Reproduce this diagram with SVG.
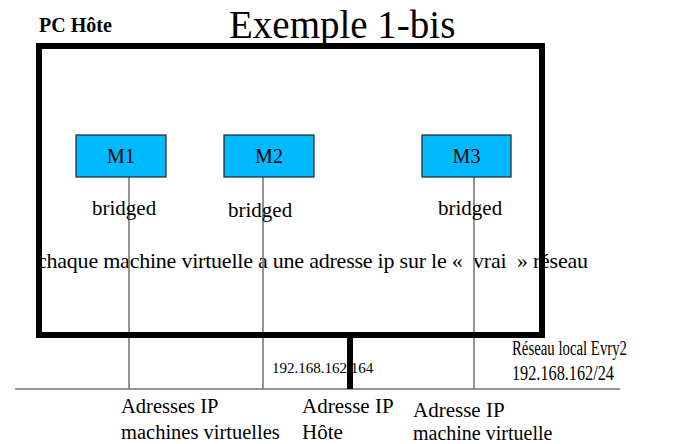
<svg xmlns="http://www.w3.org/2000/svg" width="683" height="444" viewBox="0 0 683 444">
<style>
text{font-family:"Liberation Serif","Times New Roman",serif;fill:#000}
.vm{fill:#00b9ff;stroke:#222;stroke-width:1.2}
.lbl{font-size:21px}
.link{stroke:#707070;stroke-width:1.5;fill:none}
.thick{stroke:#000;stroke-width:6;fill:none}
</style>
<rect width="683" height="444" fill="#fff"/>
<text x="229" y="38" font-size="39">Exemple 1-bis</text>
<text x="37" y="268" font-size="22" xml:space="preserve" textLength="551" lengthAdjust="spacing">chaque machine virtuelle a une adresse ip sur le «  vrai  » réseau</text>
<text x="272" y="373" font-size="15">192.168.162.164</text>
<g id="connectors">
<line class="link" x1="15" y1="389" x2="620" y2="389"/>
<line class="link" x1="129" y1="177" x2="129" y2="389"/>
<line class="link" x1="263" y1="177" x2="263" y2="389"/>
<line class="link" x1="474" y1="177" x2="474" y2="389"/>
<line class="thick" x1="350" y1="335" x2="350" y2="389"/>
</g>
<g id="pc-host">
<rect class="thick" x="39" y="46" width="503" height="289"/>
<text x="39" y="32" font-size="20" font-weight="bold">PC Hôte</text>
</g>
<g id="m1">
<rect class="vm" x="76" y="135" width="90" height="42"/>
<text x="121" y="163" font-size="20" text-anchor="middle">M1</text>
</g>
<g id="m2">
<rect class="vm" x="224" y="135" width="90" height="42"/>
<text x="269" y="163" font-size="20" text-anchor="middle">M2</text>
</g>
<g id="m3">
<rect class="vm" x="422" y="135" width="89" height="42"/>
<text x="466.5" y="163" font-size="20" text-anchor="middle">M3</text>
</g>
<g id="labels">
<text x="92" y="215" class="lbl">bridged</text>
<text x="228" y="217" class="lbl">bridged</text>
<text x="438" y="215" class="lbl">bridged</text>
<text x="512" y="355" font-size="20" textLength="115" lengthAdjust="spacingAndGlyphs">Réseau local Evry2</text>
<text x="512" y="380" font-size="20" textLength="102" lengthAdjust="spacingAndGlyphs">192.168.162/24</text>
<text x="121" y="413" font-size="20.5">Adresses IP</text>
<text x="121" y="439" font-size="20.5">machines virtuelles</text>
<text x="302" y="413" font-size="21">Adresse IP</text>
<text x="302" y="439" font-size="21">Hôte</text>
<text x="413" y="417" font-size="21">Adresse IP</text>
<text x="413" y="440" font-size="20">machine virtuelle</text>
</g>
</svg>
